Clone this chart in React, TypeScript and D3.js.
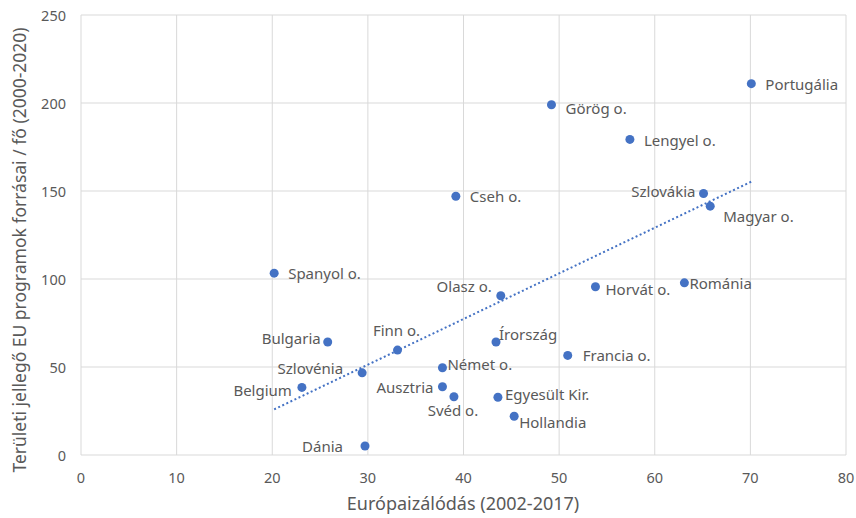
import React, { useRef, useEffect } from 'react'
import * as d3 from 'd3'

const countries = ['Portugália', 'Görög o.', 'Lengyel o.', 'Szlovákia', 'Magyar o.', 'Cseh o.', 'Spanyol o.', 'Bulgaria', 'Finn o.', 'Szlovénia', 'Belgium', 'Dánia', 'Olasz o.', 'Horvát o.', 'Románia', 'Írország', 'Francia o.', 'Német o.', 'Ausztria', 'Svéd o.', 'Egyesült Kir.', 'Hollandia']
const europeanization = [70.1, 49.2, 57.4, 65.1, 65.8, 39.2, 20.2, 25.8, 33.1, 29.4, 23.1, 29.7, 43.9, 53.8, 63.1, 43.4, 50.9, 37.8, 37.8, 39.0, 43.6, 45.3]
const euFunds = [211, 199, 179.3, 148.6, 141.4, 147, 103.3, 64.2, 59.6, 46.7, 38.4, 5.1, 90.5, 95.6, 97.8, 64.2, 56.6, 49.6, 38.8, 33.1, 32.8, 22]
const xTicks = [0, 10, 20, 30, 40, 50, 60, 70, 80]
const yTicks = [0, 50, 100, 150, 200, 250]

// label placement: [anchor, dx, dy]
const labelPlace: [string, number, number][] = [
  ['start', 14, 0], ['start', 14, 3], ['start', 14, 1], ['end', -8, -2], ['start', 13, 10],
  ['start', 14, 0], ['start', 14, 0], ['end', -7, -4], ['middle', -1, -20], ['end', -19, -5],
  ['end', -10, 3], ['end', -22, 0], ['end', -9, -10], ['start', 10, 2], ['start', 5, 0],
  ['start', 3, -8], ['start', 15, 0], ['start', 5, -4], ['end', -9, 0], ['middle', -1, 13],
  ['start', 7, -3], ['start', 5, 6]
]

const W = 856
const H = 518
const FONT = 'Noto Sans, sans-serif'

const App = () => {
  const svgRef = useRef(null)

  useEffect(() => {
    document.body.style.margin = '0'
    const svg = d3.select(svgRef.current)
    svg.selectAll('*').remove()

    const margin = { top: 15, right: 10, bottom: 63, left: 81 }
    const x = d3.scaleLinear().domain([0, 80]).range([margin.left, W - margin.right])
    const y = d3.scaleLinear().domain([0, 250]).range([H - margin.bottom, margin.top])

    const grid = '#d9d9d9'
    // gridlines
    svg.append('g').selectAll('line').data(xTicks).enter().append('line')
      .attr('x1', d => x(d)).attr('x2', d => x(d))
      .attr('y1', y(0)).attr('y2', y(250))
      .attr('stroke', grid).attr('stroke-width', 1)
    svg.append('g').selectAll('line').data(yTicks).enter().append('line')
      .attr('x1', x(0)).attr('x2', x(80))
      .attr('y1', d => y(d)).attr('y2', d => y(d))
      .attr('stroke', grid).attr('stroke-width', 1)

    // tick labels
    svg.append('g').selectAll('text').data(xTicks).enter().append('text')
      .attr('x', d => x(d)).attr('y', y(0) + 22)
      .attr('text-anchor', 'middle').attr('dominant-baseline', 'central')
      .attr('font-family', FONT).attr('font-size', 14.5).attr('fill', '#595959')
      .text(d => d)
    svg.append('g').selectAll('text').data(yTicks).enter().append('text')
      .attr('x', x(0) - 15).attr('y', d => y(d))
      .attr('text-anchor', 'end').attr('dominant-baseline', 'central')
      .attr('font-family', FONT).attr('font-size', 14.5).attr('fill', '#595959')
      .text(d => d)

    // axis titles
    svg.append('text')
      .attr('x', 463).attr('y', 503)
      .attr('text-anchor', 'middle').attr('dominant-baseline', 'central')
      .attr('font-family', FONT).attr('font-size', 18).attr('fill', '#595959')
      .text('Európaizálódás (2002-2017)')
    svg.append('text')
      .attr('transform', `translate(19,${(y(0) + y(250)) / 2 + 15}) rotate(-90)`)
      .attr('text-anchor', 'middle').attr('dominant-baseline', 'central')
      .attr('font-family', FONT).attr('font-size', 17.5).attr('fill', '#595959')
      .text('Területi jellegő EU programok forrásai / fő (2000-2020)')

    const data = countries.map((c, i) => ({ name: c, x: europeanization[i], y: euFunds[i], place: labelPlace[i] }))

    // linear trendline
    const mx = d3.mean(data, d => d.x)
    const my = d3.mean(data, d => d.y)
    const sxy = d3.sum(data, d => (d.x - mx) * (d.y - my))
    const sxx = d3.sum(data, d => (d.x - mx) ** 2)
    const slope = sxy / sxx
    const icpt = my - slope * mx
    const [x0, x1] = d3.extent(data, d => d.x)
    svg.append('line')
      .attr('x1', x(x0)).attr('y1', y(icpt + slope * x0))
      .attr('x2', x(x1)).attr('y2', y(icpt + slope * x1))
      .attr('stroke', '#4472C4').attr('stroke-width', 2)
      .attr('stroke-dasharray', '2 2.5')

    // points
    svg.append('g').selectAll('circle').data(data).enter().append('circle')
      .attr('cx', d => x(d.x)).attr('cy', d => y(d.y)).attr('r', 4.5)
      .attr('fill', '#4472C4')

    // labels
    svg.append('g').selectAll('text').data(data).enter().append('text')
      .attr('x', d => x(d.x) + d.place[1]).attr('y', d => y(d.y) + d.place[2])
      .attr('text-anchor', d => d.place[0]).attr('dominant-baseline', 'central')
      .attr('font-family', FONT).attr('font-size', 15).attr('fill', '#595959')
      .text(d => d.name)
  }, [])

  return <svg ref={svgRef} width={W} height={H} style={{ display: 'block', background: '#fff' }}></svg>
}

export default App
